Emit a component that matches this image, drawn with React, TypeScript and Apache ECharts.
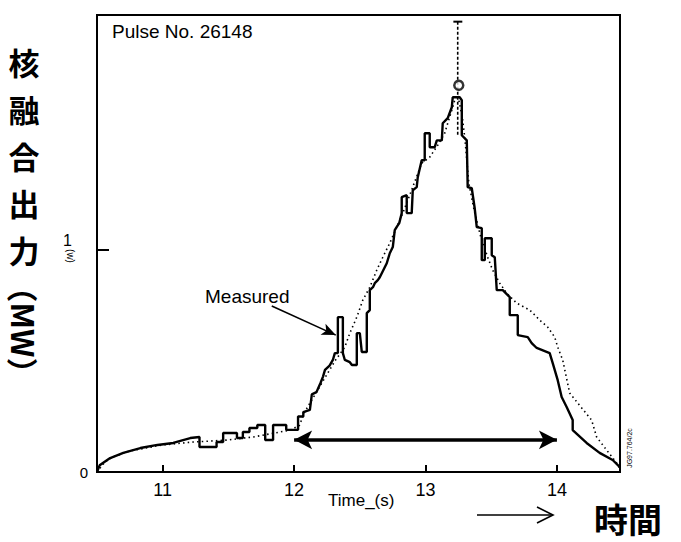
import React, { useEffect, useRef } from "react";
import * as echarts from "echarts";

// ---- data ----
const xTicks = [11, 12, 13, 14];
const yTicks = [0, 1];
const xRange = [10.5, 14.48];
const yRange = [0, 2.06];

// measured fusion power (step trace), [time s, power]
const measured: [number, number][] = [
  [10.5, 0], [10.52, 0.03], [10.6, 0.063], [10.7, 0.086], [10.83, 0.108], [10.96, 0.122],
  [11.08, 0.131], [11.21, 0.153], [11.28, 0.158],
  [11.28, 0.113], [11.41, 0.113], [11.41, 0.135], [11.46, 0.135], [11.46, 0.176], [11.565, 0.176],
  [11.565, 0.153], [11.61, 0.153], [11.61, 0.18], [11.66, 0.18], [11.66, 0.198], [11.72, 0.198],
  [11.72, 0.212], [11.78, 0.212], [11.78, 0.144], [11.84, 0.144], [11.84, 0.212], [11.94, 0.212],
  [11.94, 0.19], [12.03, 0.19],
  [12.03, 0.25], [12.07, 0.25], [12.07, 0.27], [12.12, 0.28], [12.135, 0.35], [12.17, 0.36],
  [12.2, 0.4], [12.22, 0.43], [12.235, 0.46], [12.27, 0.48], [12.295, 0.505], [12.31, 0.536],
  [12.333, 0.536], [12.333, 0.698], [12.371, 0.698], [12.371, 0.536], [12.386, 0.505],
  [12.424, 0.495], [12.44, 0.482], [12.477, 0.482], [12.477, 0.626], [12.5, 0.626],
  [12.515, 0.541], [12.553, 0.541], [12.553, 0.716], [12.576, 0.73], [12.576, 0.82],
  [12.6, 0.833], [12.614, 0.851], [12.637, 0.865], [12.652, 0.878], [12.705, 0.941],
  [12.728, 0.986], [12.751, 1.014], [12.766, 1.09], [12.78, 1.104], [12.8, 1.122],
  [12.819, 1.167], [12.819, 1.239], [12.857, 1.248], [12.857, 1.167], [12.895, 1.167],
  [12.903, 1.27], [12.933, 1.284], [12.941, 1.329], [12.971, 1.405], [12.994, 1.405],
  [12.994, 1.527], [13.032, 1.527], [13.032, 1.464], [13.07, 1.464], [13.086, 1.495],
  [13.124, 1.495], [13.131, 1.572], [13.169, 1.595], [13.2, 1.644], [13.207, 1.689],
  [13.26, 1.689], [13.276, 1.676], [13.276, 1.518], [13.314, 1.495], [13.321, 1.284],
  [13.352, 1.279], [13.374, 1.19], [13.39, 1.104], [13.428, 1.099], [13.428, 0.955],
  [13.451, 0.955], [13.451, 1.054], [13.504, 1.054], [13.504, 0.977], [13.527, 0.968],
  [13.542, 0.82], [13.588, 0.82], [13.641, 0.788], [13.641, 0.707], [13.702, 0.707],
  [13.702, 0.617], [13.778, 0.608], [13.808, 0.581], [13.846, 0.559], [13.945, 0.536],
  [13.968, 0.491], [14.006, 0.414], [14.036, 0.338], [14.074, 0.293], [14.12, 0.234],
  [14.12, 0.189], [14.226, 0.131], [14.325, 0.086], [14.424, 0.054], [14.477, 0.023],
];

// simulated fusion power (dotted), [time s, power]
const simulated: [number, number][] = [
  [10.5, 0], [10.56, 0.045], [10.62, 0.068], [10.75, 0.095], [11.0, 0.122], [11.23, 0.135],
  [11.49, 0.144], [11.69, 0.158], [11.89, 0.18], [11.97, 0.189], [12.04, 0.21], [12.08, 0.27],
  [12.16, 0.35], [12.23, 0.42], [12.31, 0.5], [12.386, 0.563], [12.424, 0.626], [12.477, 0.698],
  [12.523, 0.775], [12.576, 0.833], [12.629, 0.91], [12.675, 0.968], [12.728, 1.032],
  [12.781, 1.104], [12.827, 1.167], [12.865, 1.225], [12.971, 1.392], [13.032, 1.419],
  [13.093, 1.473], [13.146, 1.527], [13.169, 1.572], [13.2, 1.631], [13.222, 1.676],
  [13.245, 1.7], [13.28, 1.6], [13.3, 1.5], [13.33, 1.3], [13.37, 1.18], [13.42, 1.06],
  [13.473, 0.968], [13.511, 0.91], [13.565, 0.851], [13.618, 0.806], [13.694, 0.761],
  [13.793, 0.73], [13.869, 0.685], [13.93, 0.653], [13.983, 0.608], [14.006, 0.563],
  [14.044, 0.505], [14.097, 0.356], [14.173, 0.3], [14.264, 0.234], [14.302, 0.158],
  [14.378, 0.099], [14.454, 0.041], [14.477, 0.018],
];

const peakPoint: [number, number][] = [[13.253, 1.743]];
const errorBar: [number, number][] = [[13.245, 1.52], [13.245, 2.03]];
const errorCap: [number, number][] = [[13.212, 2.03], [13.28, 2.03]];
const windowSpan = { start: 12.0, end: 14.0, level: 0.145 };
const measuredPointer = { from: [11.83, 0.748], to: [12.317, 0.617] };

const yTitleChars = ["核", "融", "合", "出", "力"];
const yTitleUnit = "（MW）";
const timeWord = "時間";
const pulseLabel = "Pulse No. 26148";
const measuredLabel = "Measured";
const xName = "Time_(s)";
const unitMark = "(w)";
const figId = "JG97.764/2c";

const SANS = "'Liberation Sans', Arial, sans-serif";
const CJK = "'Noto Sans CJK JP', 'Noto Sans CJK SC', sans-serif";

export default function App() {
  const ref = useRef<HTMLDivElement>(null);

  useEffect(() => {
    document.body.style.margin = "0";
    if (!ref.current) return;
    const chart = echarts.init(ref.current, null, { renderer: "svg" });

    const txt = (text: string, x: number, y: number, size: number, extra: any = {}) => ({
      type: "text",
      x,
      y,
      rotation: extra.rotation || 0,
      style: {
        text,
        fontSize: size,
        fontFamily: extra.family || SANS,
        fontWeight: extra.weight || "normal",
        fill: "#000",
        textAlign: extra.align || "left",
        textVerticalAlign: "middle",
        align: extra.align || "left",
        verticalAlign: "middle",
      },
    });

    const graphics: any[] = [
      ...yTitleChars.map((c, i) =>
        txt(c, 24, 61 + i * 47, 31, { family: CJK, weight: "bold", align: "center" })
      ),
      txt(yTitleUnit, 24, 330, 31, { family: CJK, weight: "bold", align: "center", rotation: -Math.PI / 2 }),
      txt(timeWord, 628, 518, 34, { family: CJK, weight: "bold", align: "center" }),
      { type: "line", shape: { x1: 477, y1: 515, x2: 552, y2: 515 }, style: { stroke: "#000", lineWidth: 1.6 } },
      { type: "polyline", shape: { points: [[537, 507], [553, 515], [537, 523]] }, style: { stroke: "#000", lineWidth: 1.6, fill: "none" } },
      txt(pulseLabel, 112, 31, 19),
      txt(measuredLabel, 205, 296, 19),
      txt(xName, 328, 500, 17),
      txt(unitMark, 70, 256, 10, { align: "center", rotation: -Math.PI / 2 }),
      txt(figId, 629, 448, 7, { align: "center", rotation: Math.PI / 2 }),
    ];

    chart.setOption({
      animation: false,
      backgroundColor: "#fff",
      grid: {
        left: 97,
        right: 61,
        top: 15,
        bottom: 70,
        show: true,
        borderColor: "#000",
        borderWidth: 2,
        backgroundColor: "transparent",
      },
      xAxis: {
        type: "value",
        min: xRange[0],
        max: xRange[1],
        axisLine: { show: false },
        splitLine: { show: false },
        axisTick: { show: true, inside: true, length: 7, customValues: xTicks, lineStyle: { color: "#000", width: 2 } },
        axisLabel: {
          customValues: xTicks,
          color: "#000",
          fontSize: 18,
          fontFamily: SANS,
          margin: 9,
        },
      },
      yAxis: {
        type: "value",
        min: yRange[0],
        max: yRange[1],
        axisLine: { show: false },
        splitLine: { show: false },
        axisTick: { show: true, inside: true, length: 12, customValues: yTicks, lineStyle: { color: "#000", width: 2 } },
        axisLabel: {
          customValues: yTicks,
          color: "#000",
          fontSize: 15,
          fontFamily: SANS,
          margin: 9,
          formatter: (v: number) => (v === 1 ? "{one|1}" : "{zero|0}"),
          rich: {
            one: { fontSize: 16, fontFamily: SANS, color: "#000", padding: [0, 16, 20, 0] },
            zero: { fontSize: 15, fontFamily: SANS, color: "#000" },
          },
        },
      },
      graphic: graphics,
      series: [
        {
          type: "line",
          name: "simulated",
          data: simulated,
          showSymbol: false,
          silent: true,
          lineStyle: { color: "#000", width: 1.6, type: [1.5, 3.2] },
          z: 2,
        },
        {
          type: "line",
          name: "measured",
          data: measured,
          showSymbol: false,
          silent: true,
          lineStyle: { color: "#000", width: 2.4 },
          z: 3,
          markLine: {
            silent: true,
            animation: false,
            label: { show: false },
            emphasis: { disabled: true },
            symbol: ["arrow", "arrow"],
            symbolSize: [14, 18],
            lineStyle: { color: "#000", width: 3.5, type: "solid" },
            data: [
              [
                { coord: [windowSpan.start, windowSpan.level] },
                { coord: [windowSpan.end, windowSpan.level] },
              ],
              [
                { coord: measuredPointer.from, symbol: "none", lineStyle: { width: 1.6, color: "#000", type: "solid" } },
                { coord: measuredPointer.to, symbol: "arrow", symbolSize: [9, 14] },
              ],
            ],
          },
        },
        {
          type: "line",
          name: "errorbar",
          data: errorBar,
          showSymbol: false,
          silent: true,
          lineStyle: { color: "#000", width: 1.6, type: [3, 2] },
          z: 4,
        },
        {
          type: "line",
          name: "cap",
          data: errorCap,
          showSymbol: false,
          silent: true,
          lineStyle: { color: "#000", width: 2 },
          z: 4,
        },
        {
          type: "scatter",
          name: "peak",
          data: peakPoint,
          symbol: "circle",
          symbolSize: 9,
          silent: true,
          itemStyle: { color: "#fff", borderColor: "#000", borderWidth: 2.5 },
          z: 5,
        },
      ],
    });

    return () => chart.dispose();
  }, []);

  return <div ref={ref} style={{ width: 681, height: 542 }} />;
}
